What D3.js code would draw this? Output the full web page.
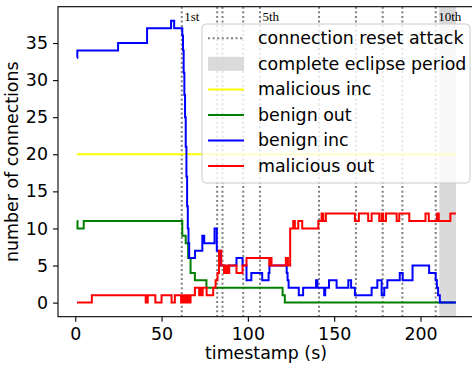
<!DOCTYPE html>
<html>
<head>
<meta charset="utf-8">
<script src="https://cdn.jsdelivr.net/npm/d3@7"></script>
<style>
  body { margin: 0; background: #fff; }
  svg { display: block; font-family: "DejaVu Sans", sans-serif; }
</style>
</head>
<body>
<svg id="chart" width="472" height="366"></svg>
<script>
// reset attacks (s) and eclipse window
const attackTimes = [61.7, 82.2, 85.3, 97.3, 107, 141.2, 162.6, 178.1, 189.5, 208.8];
const attackLabels = { 0: '1st', 4: '5th', 9: '10th' };
const eclipsePeriod = [210.9, 220.6];

// step series: [timestamp, connections]
const maliciousInc = [[1, 20], [220.5, 20]];
const benignOut = [
  [1, 11], [1.3, 10], [4.9, 11], [62, 9], [64, 8], [65.4, 6], [66.8, 4], [69.3, 3],
  [76, 2], [120.1, 1], [121.4, 0], [220.5, 0]
];
const benignInc = [
  [1, 33], [1.2, 34], [24.8, 35], [41.6, 37], [55.5, 38], [57.3, 37],
  [62, 36], [62.4, 34], [62.8, 31], [63.2, 28], [63.6, 25], [64, 21], [64.4, 17],
  [64.8, 13], [65.2, 10], [65.6, 8], [66, 6], [69.4, 7], [73.6, 9], [74.7, 8],
  [80.7, 10], [82, 7], [84.2, 5], [86.3, 4], [89, 5], [93.4, 6], [96.9, 5],
  [99.2, 3], [102, 4], [108.3, 3], [112, 4], [112.5, 5], [122.5, 4], [123, 3],
  [123.6, 2], [129.5, 1], [132, 2], [139.5, 3], [140.3, 2], [144.2, 1], [144.8, 2],
  [147, 3], [151.4, 2], [158.2, 3], [159.8, 2], [162, 1], [171.7, 2], [175, 3],
  [177.5, 1], [179, 2], [180.8, 3], [188, 4], [189.7, 3], [195.4, 5], [205, 4],
  [208.8, 3], [209.5, 2], [210.2, 1], [211.2, 0], [220.5, 0]
];
const maliciousOut = [
  [1, 0], [9.6, 1], [40.8, 0], [42, 1], [46.4, 0], [50, 1], [55.8, 0], [57.7, 1],
  [61.3, 0], [61.8, 1], [62.2, 0], [62.7, 1], [63.1, 0], [63.5, 1], [63.9, 0],
  [64.3, 1], [64.7, 0], [65.1, 1], [65.5, 0], [65.9, 1], [66.3, 0], [66.8, 1],
  [69.3, 2], [71.8, 1], [72.4, 2], [73.1, 1], [73.8, 2], [76.1, 1], [79.9, 2],
  [81.3, 3], [82.4, 4], [83.3, 7], [84.6, 5], [86.2, 4], [86.6, 5], [87.1, 4],
  [87.7, 5], [88.3, 4], [89.2, 5], [93.4, 4], [96.9, 5], [99.2, 6], [112.4, 5],
  [112.7, 6], [113.1, 5], [113.4, 6], [113.7, 5], [122, 6], [123.2, 5], [124.5, 10],
  [126.3, 11], [127.2, 10], [129.2, 11], [131.5, 10], [140.8, 11], [142.7, 12],
  [143.7, 11], [145.2, 12], [162, 11], [164.3, 12], [169.7, 11], [171.7, 12],
  [176.1, 11], [177.5, 12], [178.4, 11], [180, 12], [186.2, 11], [187.7, 12],
  [193.5, 11], [202.9, 12], [204.8, 11], [209.5, 12], [210.6, 11], [217.3, 12],
  [220.5, 12]
];

const series = [
  { name: 'malicious inc', color: 'yellow', data: maliciousInc },
  { name: 'benign out', color: 'green', data: benignOut },
  { name: 'benign inc', color: 'blue', data: benignInc },
  { name: 'malicious out', color: 'red', data: maliciousOut },
];

const margin = { top: 6.7, right: -2, bottom: 49.3, left: 58 };
const svg = d3.select('#chart');
const W = +svg.attr('width'), H = +svg.attr('height');
const width = W - margin.left - margin.right;
const height = H - margin.top - margin.bottom;
const fontSize = 17.4;

const x = d3.scaleLinear().domain([-10, 231]).range([0, width]);
const y = d3.scaleLinear().domain([-1.9, 39.9]).range([height, 0]);

svg.append('defs').append('clipPath').attr('id', 'clip')
  .append('rect').attr('width', width).attr('height', height);

const g = svg.append('g').attr('transform', `translate(${margin.left},${margin.top})`);
const plot = g.append('g').attr('clip-path', 'url(#clip)');

// attack markers
plot.selectAll('.attack').data(attackTimes).enter().append('line')
  .attr('class', 'attack')
  .attr('x1', d => x(d)).attr('x2', d => x(d))
  .attr('y1', 0).attr('y2', height)
  .attr('stroke', '#808080').attr('stroke-width', 2)
  .attr('stroke-dasharray', '2,2.6');

plot.append('rect')
  .attr('x', x(eclipsePeriod[0])).attr('width', x(eclipsePeriod[1]) - x(eclipsePeriod[0]))
  .attr('y', 0).attr('height', height)
  .attr('fill', '#d3d3d3').attr('opacity', 0.85);

const line = d3.line().x(d => x(d[0])).y(d => y(d[1])).curve(d3.curveStepAfter);
plot.selectAll('.series').data(series).enter().append('path')
  .attr('class', 'series')
  .attr('d', d => line(d.data))
  .attr('fill', 'none')
  .attr('stroke', d => d.color)
  .attr('stroke-width', 2)
  .attr('stroke-linejoin', 'miter');

// attack labels
g.selectAll('.attack-label').data(attackTimes.map((t, i) => [t, i]).filter(d => attackLabels[d[1]]))
  .enter().append('text')
  .attr('class', 'attack-label')
  .attr('x', d => x(d[0]) + 2.5)
  .attr('y', 14.5)
  .attr('font-family', '"Liberation Serif", serif')
  .attr('font-size', 13)
  .text(d => attackLabels[d[1]]);

// axes
const xAxis = g.append('g')
  .attr('transform', `translate(0,${height})`)
  .call(d3.axisBottom(x).tickValues([0, 50, 100, 150, 200]).tickSize(5).tickSizeOuter(0).tickPadding(6));
const yAxis = g.append('g')
  .call(d3.axisLeft(y).tickValues([0, 5, 10, 15, 20, 25, 30, 35]).tickSize(5).tickSizeOuter(0).tickPadding(5));
[xAxis, yAxis].forEach(a => {
  a.select('.domain').remove();
  a.selectAll('text').attr('font-size', fontSize).attr('font-family', '"DejaVu Sans", sans-serif').attr('fill', '#000');
  a.selectAll('line').attr('stroke', '#000').attr('stroke-width', 1.1);
});

g.append('rect')
  .attr('width', width).attr('height', height)
  .attr('fill', 'none').attr('stroke', '#000').attr('stroke-width', 1.1);

svg.append('text')
  .attr('x', margin.left + width / 2).attr('y', 358.5)
  .attr('text-anchor', 'middle').attr('font-size', fontSize)
  .text('timestamp (s)');
svg.append('text')
  .attr('transform', `translate(18,${margin.top + height / 2}) rotate(-90)`)
  .attr('text-anchor', 'middle').attr('font-size', fontSize)
  .text('number of connections');

// legend
const legend = svg.append('g').attr('transform', 'translate(202,24)');
legend.append('rect')
  .attr('width', 268).attr('height', 159).attr('rx', 4)
  .attr('fill', '#fff').attr('fill-opacity', 0.8)
  .attr('stroke', '#cccccc').attr('stroke-width', 1);
const entries = [
  { name: 'connection reset attack', kind: 'attack' },
  { name: 'complete eclipse period', kind: 'span' },
  ...series.map(s => ({ name: s.name, kind: 'line', color: s.color })),
];
const rowY = d3.scaleLinear().domain([0, 5]).range([14.3, 142]);
const item = legend.selectAll('.item').data(entries).enter().append('g')
  .attr('transform', (d, i) => `translate(0,${rowY(i)})`);
item.filter(d => d.kind === 'attack').append('line')
  .attr('x1', 6).attr('x2', 42)
  .attr('stroke', '#808080').attr('stroke-width', 2).attr('stroke-dasharray', '2,2.6');
item.filter(d => d.kind === 'span').append('rect')
  .attr('x', 6).attr('width', 36).attr('y', -7).attr('height', 14)
  .attr('fill', '#d3d3d3').attr('opacity', 0.85);
item.filter(d => d.kind === 'line').append('line')
  .attr('x1', 6).attr('x2', 42)
  .attr('stroke', d => d.color).attr('stroke-width', 2);
item.append('text')
  .attr('x', 56).attr('y', 6)
  .attr('font-size', fontSize)
  .text(d => d.name);
</script>
</body>
</html>
